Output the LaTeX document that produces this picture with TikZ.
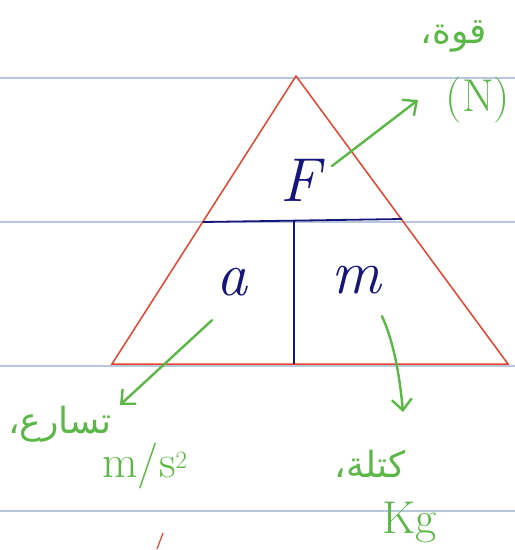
\documentclass[tikz,border=0pt]{standalone}
\usepackage{fontspec}
\usepackage{tikz}
\usetikzlibrary{positioning, arrows.meta, calc}
\newfontfamily\arabicfont[Script=Arabic]{DejaVu Sans}
\TeXXeTstate=1
\definecolor{ruleblue}{HTML}{B8C6DE}
\definecolor{penred}{HTML}{E8432E}
\definecolor{pennavy}{HTML}{16167A}
\definecolor{pengreen}{HTML}{5CB846}

\tikzset{
  letter/.style={text=pennavy, inner sep=0pt, font=\fontsize{62}{62}\selectfont\itshape},
  note/.style={text=pengreen, inner sep=0pt, font=\fontsize{36}{38}\selectfont},
  unit/.style={note, font=\fontsize{46}{48}\selectfont},
  pointer/.style={draw=pengreen, line width=2.4pt, line cap=round,
                  -{Straight Barb[length=11pt, width=20pt]}},
}

\begin{document}
\begin{tikzpicture}[x=1pt, y=-1pt]
    \useasboundingbox (0,0) rectangle (515,550);
    % ruled paper
    \foreach \y in {78,222,366,511}
      \draw[ruleblue, line width=1.2pt] (0,\y) -- (515,\y);

    \coordinate (top) at (296,76);
    \coordinate (left) at (112,364);
    \coordinate (right) at (508,364);
    \draw[penred, line width=1.5pt] (top) -- (left) -- (right) -- cycle;

    \coordinate (divL) at (203,222);
    \coordinate (divR) at (402,219);
    \coordinate (divM) at (294,221);
    \coordinate (divB) at (294,364);
    \draw[pennavy, line width=1.8pt] (divL) -- (divR);
    \draw[pennavy, line width=1.8pt] (divM) -- (divB);

    \node[letter] (F) at (300,180) {F};
    \node[letter] (a) at (232,282) {a};
    \node[letter] (m) at (356,280) {m};

    \node[note] (forceAr) at (454,36) {\arabicfont\beginR قوة،\endR};
    \node[unit] (forceUnit) at (478,100) {(N)};
    \node[note] (accAr) at (60,424) {\arabicfont\beginR تسارع،\endR};
    \node[unit] (accUnit) at (145,466) {m/s$^2$};
    \node[note] (massAr) at (370,464) {\arabicfont\beginR كتلة،\endR};
    \node[unit] (massUnit) at (410,522) {Kg};

    \coordinate (forceTip) at (418,100);
    \coordinate (accTip) at (120,405);
    \coordinate (massTip) at (403,412);
    \draw[pointer] ($(F.east)+(12,-14)$) -- (forceTip);
    \draw[pointer] ($(a.south)+(-20,24)$) -- (accTip);
    \draw[pointer] ($(m.south)+(26,22)$) .. controls (395,345) and (400,380) .. (massTip);

    \draw[penred, line width=1.2pt] (157,549) -- (163,533);
\end{tikzpicture}
\end{document}
